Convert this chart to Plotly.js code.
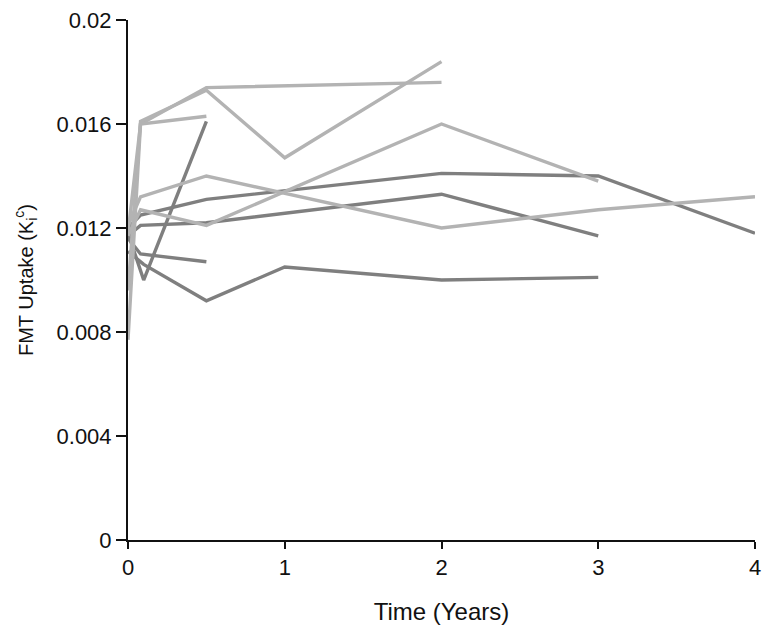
<!DOCTYPE html>
<html>
<head>
<meta charset="utf-8">
<script src="https://cdn.plot.ly/plotly-3.0.1.min.js"></script>
<style>html,body{margin:0;padding:0;background:#fff;}#chart{width:764px;height:625px;}</style>
</head>
<body>
<div id="chart"></div>
<script>
// Patient series: time (years) and FMT uptake (Ki^c)
const l1Time = [0, 0.08, 0.5, 2];
const l1Vals = [0.0077, 0.0160, 0.0174, 0.0176];
const l2Time = [0, 0.08, 0.5, 1, 2];
const l2Vals = [0.0096, 0.0161, 0.0173, 0.0147, 0.0184];
const l3Time = [0, 0.08, 0.5];
const l3Vals = [0.0118, 0.0160, 0.0163];
const l4Time = [0, 0.08, 0.5, 2, 3, 4];
const l4Vals = [0.0121, 0.0132, 0.0140, 0.0120, 0.0127, 0.0132];
const l5Time = [0, 0.08, 0.5, 2, 3];
const l5Vals = [0.0117, 0.0127, 0.0121, 0.0160, 0.0138];

const d1Time = [0, 0.1, 0.5];
const d1Vals = [0.0118, 0.0100, 0.0161];
const d2Time = [0, 0.08, 0.5];
const d2Vals = [0.0116, 0.0110, 0.0107];
const d3Time = [0, 0.1, 0.5, 1, 2, 3];
const d3Vals = [0.0111, 0.0106, 0.0092, 0.0105, 0.0100, 0.0101];
const d4Time = [0, 0.08, 0.5, 2, 3, 4];
const d4Vals = [0.0120, 0.0125, 0.0131, 0.0141, 0.0140, 0.0118];
const d5Time = [0, 0.08, 0.5, 2, 3];
const d5Vals = [0.0117, 0.0121, 0.0122, 0.0133, 0.0117];

const yTickVals = [0, 0.004, 0.008, 0.012, 0.016, 0.02];
const yTickText = ["0", "0.004", "0.008", "0.012", "0.016", "0.02"];
const xTickVals = [0, 1, 2, 3, 4];

const LIGHT = '#b3b3b3';
const DARK = '#7f7f7f';

const series = [
  [d1Time, d1Vals, DARK], [d2Time, d2Vals, DARK], [d3Time, d3Vals, DARK],
  [d4Time, d4Vals, DARK], [d5Time, d5Vals, DARK],
  [l1Time, l1Vals, LIGHT], [l2Time, l2Vals, LIGHT], [l3Time, l3Vals, LIGHT],
  [l4Time, l4Vals, LIGHT], [l5Time, l5Vals, LIGHT]
];

const traces = series.map(s => ({
  x: s[0], y: s[1], type: 'scatter', mode: 'lines',
  line: {color: s[2], width: 3.4},
  hoverinfo: 'skip', showlegend: false
}));

const font = {family: 'Liberation Sans, Arial, Helvetica, sans-serif', color: '#111'};

const layout = {
  width: 764, height: 625,
  margin: {l: 128, r: 9, t: 20, b: 85},
  paper_bgcolor: '#fff', plot_bgcolor: '#fff',
  font: font,
  showlegend: false,
  xaxis: {
    range: [0, 4], tickvals: xTickVals, ticks: 'outside', ticklen: 7, tickwidth: 2,
    tickcolor: '#111', showline: true, linecolor: '#111', linewidth: 2,
    showgrid: false, zeroline: false, tickfont: {size: 22, color: '#111'},
    ticklabeloverflow: 'allow', automargin: false,
    title: {text: 'Time (Years)', font: {size: 24, color: '#111'}, standoff: 24}
  },
  yaxis: {
    range: [0, 0.02], tickvals: yTickVals, ticktext: yTickText, ticks: 'outside', ticklen: 10, tickwidth: 2,
    tickcolor: '#111', showline: true, linecolor: '#111', linewidth: 2,
    showgrid: false, zeroline: false, tickfont: {size: 22, color: '#111'},
    automargin: false,
    title: {text: 'FMT Uptake (K<sub>i</sub><sup>c</sup>)', font: {size: 20, color: '#111'}, standoff: 18}
  }
};

Plotly.newPlot('chart', traces, layout, {staticPlot: true, displayModeBar: false});
</script>
</body>
</html>
